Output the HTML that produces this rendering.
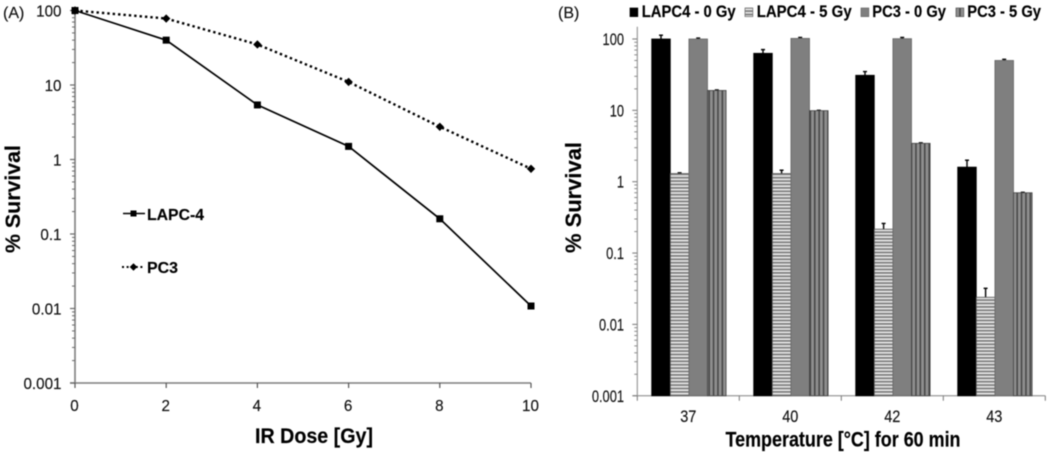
<!DOCTYPE html>
<html>
<head>
<meta charset="utf-8">
<title>Survival charts</title>
<style>
html,body{margin:0;padding:0;background:#fff;width:1050px;height:452px;overflow:hidden}
svg{display:block;filter:blur(0.55px)}
text{font-family:"Liberation Sans",sans-serif;fill:#111;stroke:#111;stroke-width:0.15px}
.b{font-weight:bold;fill:#000;stroke:#000}
</style>
</head>
<body>
<svg id="figure" xmlns="http://www.w3.org/2000/svg" width="1050" height="452" viewBox="0 0 1050 452">
<defs>
<pattern id="hatch-h" patternUnits="userSpaceOnUse" width="6" height="3.4">
<rect width="6" height="3.4" fill="#ececec"/>
<rect width="6" height="1.8" fill="#7e7e7e"/>
</pattern>
<pattern id="hatch-v" patternUnits="userSpaceOnUse" width="4.4" height="6">
<rect width="4.4" height="6" fill="#8e8e8e"/>
<rect width="1.5" height="6" fill="#444"/>
</pattern>
</defs>
<rect width="1050" height="452" fill="#fff"/>
<text x="3" y="18" font-size="16">(A)</text>
<text x="558" y="18" font-size="16">(B)</text>
<text class="b" transform="translate(20,253) rotate(-90)" font-size="21" textLength="108" lengthAdjust="spacingAndGlyphs">% Survival</text>
<text class="b" x="255" y="443" font-size="21" textLength="118" lengthAdjust="spacingAndGlyphs">IR Dose [Gy]</text>
<text class="b" transform="translate(581,253) rotate(-90)" font-size="22" textLength="111" lengthAdjust="spacingAndGlyphs">% Survival</text>
<text class="b" x="725.5" y="446.5" font-size="21.5" textLength="235" lengthAdjust="spacingAndGlyphs">Temperature [°C] for 60 min</text>
<g id="chart-a"></g>
<g id="chart-b"></g>
</svg>
<script>
// Panel A data
const doseTicks = [0, 2, 4, 6, 8, 10];
const logTickLabels = ['100', '10', '1', '0.1', '0.01', '0.001'];
const logTickValues = [100, 10, 1, 0.1, 0.01, 0.001];
const lapcSurvival = [100, 40, 5.4, 1.5, 0.16, 0.0108];
const pc3Survival = [100, 78, 35, 11, 2.75, 0.75];

// Panel B data
const temperatures = ['37', '40', '42', '43'];
const lapc0 = [100, 63, 31, 1.6];
const lapc0Err = [113, 71, 35, 2.0];
const lapc5 = [1.3, 1.3, 0.216, 0.024];
const lapc5Err = [1.33, 1.45, 0.26, 0.032];
const pc30 = [100, 102, 101, 50];
const pc30Err = [103, 105, 105, 52];
const pc35 = [19, 9.9, 3.45, 0.7];
const pc35Err = [19.3, 10, 3.5, 0.71];

const NS = 'http://www.w3.org/2000/svg';
function make(parent, tag, attrs, txt) {
  const el = document.createElementNS(NS, tag);
  for (const k in attrs) el.setAttribute(k, attrs[k]);
  if (txt !== undefined) el.textContent = txt;
  parent.appendChild(el);
  return el;
}
const A = document.getElementById('chart-a');
const B = document.getElementById('chart-b');

// Axis functions
const ax = v => 75 + v * 45.6;
const ay = v => 10.5 + (2 - Math.log10(v)) * 74.5;
const by = v => 39 + (2 - Math.log10(v)) * 71.35;
const bx = i => 637.3 + i * 102;

function logTicks(parent, xPos, yFn, color, prefix) {
  logTickValues.forEach(function (v, i) {
    const major = make(parent, 'line', {x1: xPos - 5, x2: xPos, y1: yFn(v), y2: yFn(v), stroke: color, 'stroke-width': 1.2});
    
    
    if (i < logTickValues.length - 1) {
      for (let m = 2; m < 10; m++) {
        const t = make(parent, 'line', {x1: xPos - 3, x2: xPos, y1: yFn(v / 10 * m), y2: yFn(v / 10 * m), stroke: color, 'stroke-width': 1});
        
        
      }
    }
  });
}

// ---- Panel A axes ----
const aYAxis = make(A, 'line', {x1: 75, x2: 75, y1: ay(100), y2: ay(0.001), stroke: '#7d7d7d', 'stroke-width': 1.6});


const aXAxis = make(A, 'line', {x1: 70, x2: ax(10), y1: ay(0.001), y2: ay(0.001), stroke: '#7d7d7d', 'stroke-width': 1.6});


logTicks(A, 75, ay, '#6a6a6a', 'a-y');
logTickLabels.forEach(function (l, i) {
  const t = make(A, 'text', {transform: 'translate(61.5,' + (ay(logTickValues[i]) + 5.8) + ') scale(0.95,1)', 'font-size': 16, 'text-anchor': 'end'}, l);
  
  
});
doseTicks.forEach(function (d) {
  const tk = make(A, 'line', {x1: ax(d), x2: ax(d), y1: ay(0.001), y2: ay(0.001) + 5, stroke: '#555', 'stroke-width': 1.2});
  
  
  const t = make(A, 'text', {transform: 'translate(' + (ax(d) - 0.5) + ',411) scale(0.95,1)', 'font-size': 16, 'text-anchor': 'middle'}, String(d));
  
  
});

// ---- Panel A series ----
function pts(arr) { return arr.map(function (v, i) { return ax(doseTicks[i]) + ',' + ay(v); }).join(' '); }
const pc3Line = make(A, 'polyline', {points: pts(pc3Survival), fill: 'none', stroke: '#000', 'stroke-width': 2.4, 'stroke-dasharray': '2.4 3'});


const lapcLine = make(A, 'polyline', {points: pts(lapcSurvival), fill: 'none', stroke: '#000', 'stroke-width': 1.7});


function diamond(parent, x, y, r) {
  return make(parent, 'polygon', {points: [x, y - r, x + r, y, x, y + r, x - r, y].join(','), fill: '#000'});
}
pc3Survival.forEach(function (v, i) {
  const m = diamond(A, ax(doseTicks[i]), ay(v), 4.2);
  
  
});
lapcSurvival.forEach(function (v, i) {
  const m = make(A, 'rect', {x: ax(doseTicks[i]) - 3.5, y: ay(v) - 3.5, width: 7, height: 7, fill: '#000'});
  
  
});

// ---- Panel A legend ----
const legL = make(A, 'g', {});


make(legL, 'line', {x1: 123, x2: 145, y1: 213.5, y2: 213.5, stroke: '#000', 'stroke-width': 1.6});
make(legL, 'rect', {x: 130.5, y: 210.5, width: 6, height: 6, fill: '#000'});
make(legL, 'text', {x: 147, y: 220, 'font-size': 16, class: 'b', textLength: 57, lengthAdjust: 'spacingAndGlyphs'}, 'LAPC-4');
const legP = make(A, 'g', {});


make(legP, 'line', {x1: 122, x2: 145, y1: 267, y2: 267, stroke: '#000', 'stroke-width': 2, 'stroke-dasharray': '2 2.6'});
diamond(legP, 133.5, 267, 3.8);
make(legP, 'text', {x: 147, y: 273, 'font-size': 16, class: 'b', textLength: 31, lengthAdjust: 'spacingAndGlyphs'}, 'PC3');

// ---- Panel B axes ----
const bYAxis = make(B, 'line', {x1: 637.3, x2: 637.3, y1: 26.7, y2: by(0.001), stroke: '#9a9a9a', 'stroke-width': 1.2});


const bXAxis = make(B, 'line', {x1: 633, x2: bx(temperatures.length), y1: by(0.001), y2: by(0.001), stroke: '#9a9a9a', 'stroke-width': 1.2});


logTicks(B, 637.3, by, '#8a8a8a', 'b-y');
logTickLabels.forEach(function (l, i) {
  const t = make(B, 'text', {transform: 'translate(624,' + (by(logTickValues[i]) + 6) + ') scale(0.78,1)', 'font-size': 16.5, 'text-anchor': 'end'}, l);
  
  
});
for (let i = 0; i <= temperatures.length; i++) {
  const tk = make(B, 'line', {x1: bx(i), x2: bx(i), y1: by(0.001), y2: by(0.001) + 5, stroke: '#777', 'stroke-width': 1});
  
  
}
temperatures.forEach(function (l, i) {
  const t = make(B, 'text', {transform: 'translate(' + (bx(i) + 51) + ',422) scale(0.88,1)', 'font-size': 16.5, 'text-anchor': 'middle'}, l);
  
  
});

// ---- Panel B bars ----
const BAR_W = 18.6, BAR_OFF = 14.4;
function drawBars(values, errs, idx, fill, stroke, key) {
  values.forEach(function (v, i) {
    const x = bx(i) + BAR_OFF + idx * BAR_W;
    const top = by(v), base = by(0.001);
    const cx = x + BAR_W / 2;
    const eb = make(B, 'path', {d: 'M' + cx + ' ' + top + 'V' + by(errs[i]) + 'M' + (cx - 2) + ' ' + by(errs[i]) + 'H' + (cx + 2), stroke: '#000', 'stroke-width': 1.4, fill: 'none'});
    
    
    const r = make(B, 'rect', {x: x, y: top, width: BAR_W, height: base - top, fill: fill, stroke: stroke, 'stroke-width': 0.8});
    
    
  });
}
drawBars(lapc0, lapc0Err, 0, '#000', '#000', 'lapc4-0gy');
drawBars(lapc5, lapc5Err, 1, 'url(#hatch-h)', '#555', 'lapc4-5gy');
drawBars(pc30, pc30Err, 2, '#7f7f7f', '#666', 'pc3-0gy');
drawBars(pc35, pc35Err, 3, 'url(#hatch-v)', '#444', 'pc3-5gy');

// ---- Panel B legend ----
function legendB(key, label, sx, tx, tw, fill, stroke) {
  const g = make(B, 'g', {});
  
  
  make(g, 'rect', {x: sx, y: 8, width: 7.8, height: 8.6, fill: fill, stroke: stroke, 'stroke-width': 0.7});
  make(g, 'text', {x: tx, y: 17, 'font-size': 17, class: 'b', textLength: tw, lengthAdjust: 'spacingAndGlyphs'}, label);
}
legendB('lapc4-0gy', 'LAPC4 - 0 Gy', 630, 641.7, 94, '#000', '#000');
legendB('lapc4-5gy', 'LAPC4 - 5 Gy', 745, 756.7, 95, 'url(#hatch-h)', '#666');
legendB('pc3-0gy', 'PC3 - 0 Gy', 861, 872.3, 73.7, '#7f7f7f', '#666');
legendB('pc3-5gy', 'PC3 - 5 Gy', 956, 967.3, 73.7, 'url(#hatch-v)', '#555');
</script>
</body>
</html>
